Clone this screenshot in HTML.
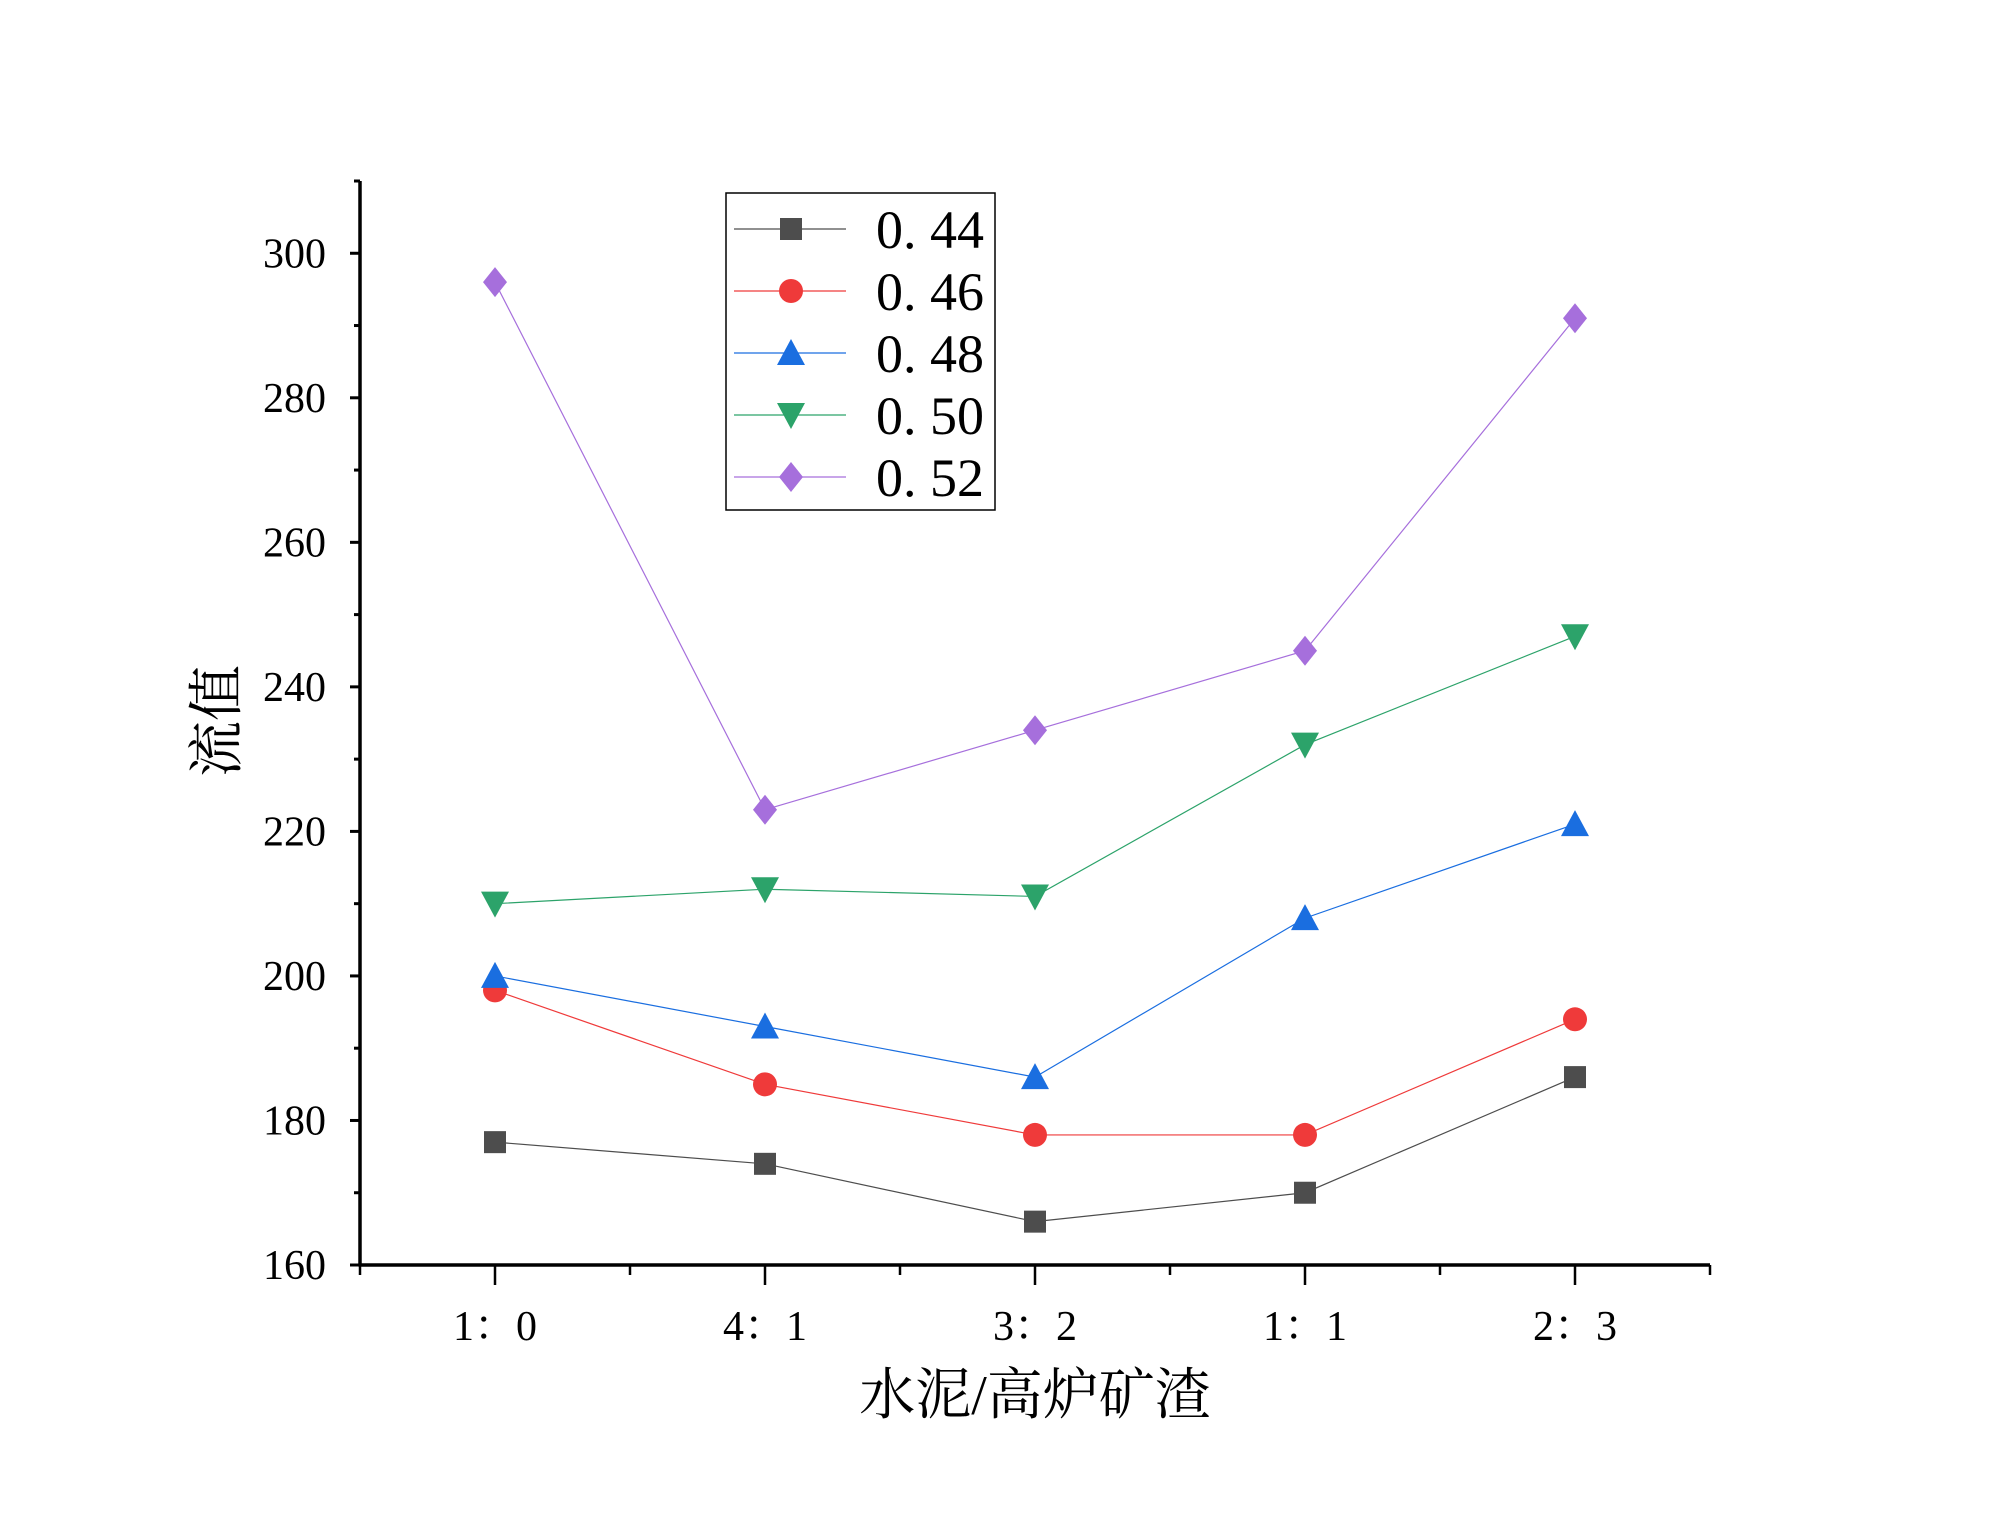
<!DOCTYPE html>
<html><head><meta charset="utf-8"><style>
body{margin:0;background:#fff;}
svg text{font-family:"Liberation Serif","Noto Serif CJK SC",serif;}
</style></head><body>
<svg id="chart" width="2000" height="1527" viewBox="0 0 2000 1527" xmlns="http://www.w3.org/2000/svg">
<rect width="2000" height="1527" fill="#fff"/>
<g id="plot"></g>
</svg>
<script>
const categories=["1：0","4：1","3：2","1：1","2：3"];
const seriesNames=["0.44","0.46","0.48","0.50","0.52"];
const s044=[177,174,166,170,186];
const s046=[198,185,178,178,194];
const s048=[200,193,186,208,221];
const s050=[210,212,211,232,247];
const s052=[296,223,234,245,291];
const yTicks=[160,180,200,220,240,260,280,300];
const colors=["#4d4d4d","#ef3a3a","#1a6ee0","#2ca36a","#a66fdc"];
const markers=["square","circle","up","down","diamond"];
const allSeries=[s044,s046,s048,s050,s052];

const L=360,R=1710,B=1265,T=181;
const yMin=160,yMax=310;
const X=i=>L+(i+0.5)*(R-L)/categories.length;
const Y=v=>B-(v-yMin)*(B-T)/(yMax-yMin);
const NS="http://www.w3.org/2000/svg";
const g=document.getElementById('plot');
function el(tag,attrs,parent){const e=document.createElementNS(NS,tag);for(const k in attrs)e.setAttribute(k,attrs[k]);(parent||g).appendChild(e);return e;}

let a=el('line',{x1:L,y1:T,x2:L,y2:B+1.5,stroke:'#000','stroke-width':3.5});


a=el('line',{x1:L-1.5,y1:B,x2:R,y2:B,stroke:'#000','stroke-width':3.5});


for(let v=yMin;v<=yMax;v+=10){
  const major=yTicks.includes(v);
  const t=el('line',{x1:L,x2:L-(major?10:6),y1:Y(v),y2:Y(v),stroke:'#000','stroke-width':3});
  
  
  if(major){
    const tx=el('text',{x:L-34,y:Y(v)+14,'text-anchor':'end','font-size':42});
    tx.textContent=v;
    
    
  }
}
for(let k=0;k<=categories.length*2;k++){
  const xx=L+k*(R-L)/(categories.length*2);
  const major=k%2===1;
  const t=el('line',{x1:xx,x2:xx,y1:B,y2:B+(major?20:10),stroke:'#000','stroke-width':2.5});
  
  
}
categories.forEach((c,i)=>{
  const tx=el('text',{x:X(i),y:1340,'text-anchor':'middle','font-size':42});
  tx.textContent=c;
  
  
});
let t=el('text',{x:1035,y:1414,'text-anchor':'middle','font-size':56});
t.textContent='水泥/高炉矿渣';


t=el('text',{x:0,y:0,'text-anchor':'middle','font-size':56,transform:'translate(236,721) rotate(-90)'});
t.textContent='流值';



function marker(type,x,y,color,parent){
  const s=12;let m;
  if(type==='square')m=el('rect',{x:x-s+1,y:y-s+1,width:2*s-2,height:2*s-2,fill:color},parent);
  else if(type==='circle')m=el('circle',{cx:x,cy:y,r:s,fill:color},parent);
  else if(type==='up')m=el('polygon',{points:`${x},${y-s-2} ${x+s+2},${y+s} ${x-s-2},${y+s}`,fill:color},parent);
  else if(type==='down')m=el('polygon',{points:`${x},${y+s+2} ${x+s+2},${y-s} ${x-s-2},${y-s}`,fill:color},parent);
  else m=el('polygon',{points:`${x},${y-s-3} ${x+s},${y} ${x},${y+s+3} ${x-s},${y}`,fill:color},parent);
  return m;
}

allSeries.forEach((data,si)=>{
  const sg=el('g',{});
  
  
  const pl=el('polyline',{points:data.map((v,i)=>X(i)+','+Y(v)).join(' '),fill:'none',stroke:colors[si],'stroke-width':1.2},sg);
  
  
  data.forEach((v,i)=>{
    const m=marker(markers[si],X(i),Y(v),colors[si],sg);
    
    
  });
});

const lg=el('g',{});


el('rect',{x:726,y:193,width:269,height:317,fill:'#fff',stroke:'#000','stroke-width':1.5},lg);
const ly=[229,291,353,415,477];
seriesNames.forEach((n,si)=>{
  const eg=el('g',{},lg);
  
  
  el('line',{x1:734,x2:846,y1:ly[si],y2:ly[si],stroke:colors[si],'stroke-width':1.2},eg);
  marker(markers[si],791,ly[si],colors[si],eg);
  const tx=el('text',{x:876,y:ly[si]+19,'font-size':54},eg);
  tx.textContent=n.replace('.','. ');
});
</script>
</body></html>
